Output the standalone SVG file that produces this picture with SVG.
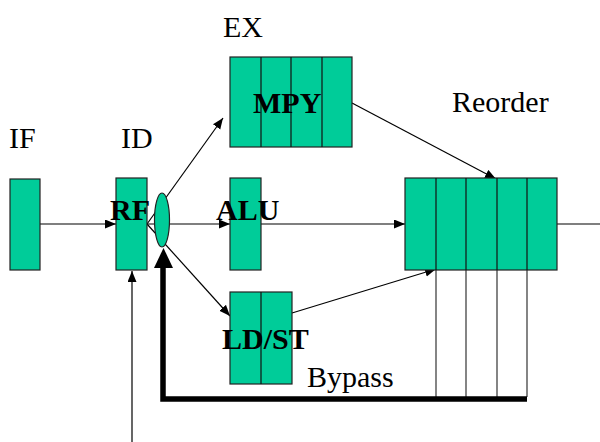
<svg xmlns="http://www.w3.org/2000/svg" width="600" height="442" viewBox="0 0 600 442">
<style>
.box{fill:#00CC99;stroke:#222;stroke-width:1.2}
.div{stroke:#111;stroke-width:1.2}
.ln{stroke:#000;stroke-width:1.2;fill:none}
.vl{stroke:#333;stroke-width:1.2}
.lbl{font-family:"Liberation Serif","Times New Roman",serif;font-size:30px;fill:#000}
.blbl{font-family:"Liberation Serif","Times New Roman",serif;font-size:30px;font-weight:bold;fill:#000}
</style>
<defs>
<marker id="ah" markerUnits="userSpaceOnUse" markerWidth="12" markerHeight="10" refX="11" refY="4.5" orient="auto">
<path d="M0,0 L11,4.5 L0,9 z" fill="#000"/>
</marker>
</defs>
<rect width="600" height="442" fill="#fff"/>
<g id="connectors">
<line class="ln" x1="40" y1="224" x2="116" y2="224" marker-end="url(#ah)"/>
<line class="ln" x1="147" y1="224" x2="223" y2="118" marker-end="url(#ah)"/>
<line class="ln" x1="147" y1="224" x2="230" y2="224" marker-end="url(#ah)"/>
<line class="ln" x1="147" y1="224" x2="230" y2="316" marker-end="url(#ah)"/>
<line class="ln" x1="261" y1="224" x2="405" y2="224" marker-end="url(#ah)"/>
<line class="ln" x1="352" y1="103" x2="496" y2="179" marker-end="url(#ah)"/>
<line class="ln" x1="292" y1="313" x2="436" y2="269" marker-end="url(#ah)"/>
<line class="ln" x1="557" y1="224" x2="600" y2="224"/>
<line class="ln" x1="132" y1="442" x2="132" y2="271" marker-end="url(#ah)"/>
<line class="vl" x1="436" y1="270" x2="436" y2="397"/>
<line class="vl" x1="466" y1="270" x2="466" y2="397"/>
<line class="vl" x1="497" y1="270" x2="497" y2="397"/>
<line class="vl" x1="527" y1="270" x2="527" y2="397"/>
<polyline points="527,399 163,399 163,266" fill="none" stroke="#000" stroke-width="5.5"/>
<polygon points="154,268 173,268 163.5,248" fill="#000"/>
</g>
<g id="IF"><rect class="box" x="10" y="179" width="30" height="91"/></g>
<g id="RF"><rect class="box" x="116" y="178" width="31" height="92"/><text class="blbl" x="110" y="220">RF</text></g>
<g id="mux"><ellipse class="box" cx="162" cy="220" rx="7.5" ry="27"/></g>
<g id="MPY">
<rect class="box" x="230" y="57" width="122" height="90"/>
<line class="div" x1="261" y1="57" x2="261" y2="147"/>
<line class="div" x1="291" y1="57" x2="291" y2="147"/>
<line class="div" x1="322" y1="57" x2="322" y2="147"/>
<text class="blbl" x="253" y="113">MPY</text>
</g>
<g id="ALU"><rect class="box" x="230" y="178" width="31" height="92"/><text class="blbl" x="216" y="220">ALU</text></g>
<g id="LDST">
<rect class="box" x="230" y="292" width="62" height="92"/>
<line class="div" x1="261" y1="292" x2="261" y2="384"/>
<text class="blbl" x="222" y="349">LD/ST</text>
</g>
<g id="Reorder">
<rect class="box" x="405" y="178" width="152" height="92"/>
<line class="div" x1="436" y1="178" x2="436" y2="270"/>
<line class="div" x1="466" y1="178" x2="466" y2="270"/>
<line class="div" x1="497" y1="178" x2="497" y2="270"/>
<line class="div" x1="527" y1="178" x2="527" y2="270"/>
</g>
<g id="labels">
<text class="lbl" x="9" y="148">IF</text>
<text class="lbl" x="121" y="148">ID</text>
<text class="lbl" x="223" y="37">EX</text>
<text class="lbl" x="452" y="112">Reorder</text>
<text class="lbl" x="307" y="387">Bypass</text>
</g>
</svg>
